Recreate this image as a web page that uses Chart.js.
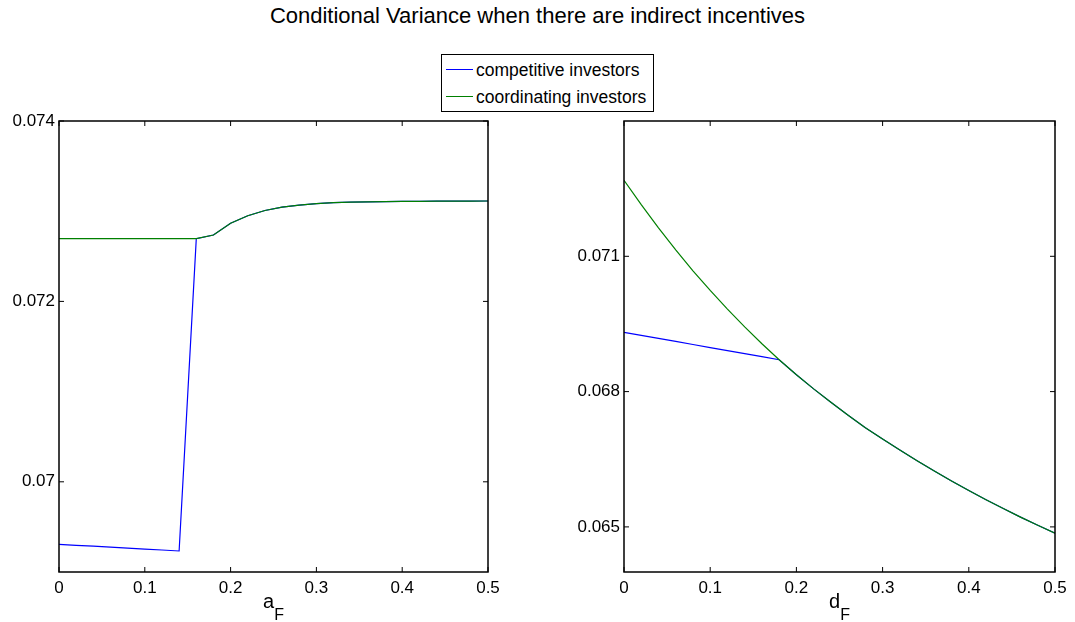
<!DOCTYPE html>
<html>
<head>
<meta charset="utf-8">
<script src="https://cdn.jsdelivr.net/npm/chart.js@4.4.1/dist/chart.umd.min.js"></script>
<style>
  body { margin: 0; background: #fff; width: 1075px; height: 622px; position: relative; overflow: hidden;
         font-family: 'Liberation Sans', Arial, Helvetica, sans-serif; }
  #title { position: absolute; left: 0; top: 3px; width: 1075px; text-align: center; font-size: 22px; line-height: 26px; color: #000; }
  #legend { position: absolute; left: 441px; top: 54px; width: 211px; height: 56px; border: 1px solid #000; background: #fff; z-index: 2; }
  .row { position: absolute; left: 34px; height: 20px; font-size: 17.5px; line-height: 20px; white-space: nowrap; color: #000; }
  .swatch { position: absolute; left: 4px; width: 27px; height: 0; border-top: 1px solid; }
  canvas { position: absolute; top: 0; }
</style>
</head>
<body>
<div id="title"></div>
<div id="legend">
  <div class="swatch" id="sw1" style="top:14px"></div>
  <div class="row" id="lg1" style="top:5px"></div>
  <div class="swatch" id="sw2" style="top:41px"></div>
  <div class="row" id="lg2" style="top:32px"></div>
</div>
<canvas id="left" width="540" height="622" style="left:0;width:540px;height:622px"></canvas>
<canvas id="right" width="535" height="622" style="left:540px;width:535px;height:622px"></canvas>
<script>
var titleText = 'Conditional Variance when there are indirect incentives';
var seriesNames = ['competitive investors', 'coordinating investors'];
var seriesColors = ['#0000ff', '#008000'];

var xValues = [0, 0.02, 0.04, 0.06, 0.08, 0.10, 0.12, 0.14, 0.16, 0.18, 0.20, 0.22, 0.24,
               0.26, 0.28, 0.30, 0.32, 0.34, 0.36, 0.38, 0.40, 0.42, 0.44, 0.46, 0.48, 0.50];

// left panel (a_F)
var leftCompetitive = [0.069307, 0.069296, 0.069286, 0.069275, 0.069265, 0.069254, 0.069244, 0.069233,
                       0.072695, 0.072736, 0.072866, 0.072950, 0.073008, 0.073045, 0.073068, 0.073085,
                       0.073094, 0.073100, 0.073104, 0.073107, 0.073109, 0.073110, 0.073111, 0.073112,
                       0.073112, 0.073113];
var leftCoordinating = [0.072695, 0.072695, 0.072695, 0.072695, 0.072695, 0.072695, 0.072695, 0.072695,
                        0.072695, 0.072736, 0.072866, 0.072950, 0.073008, 0.073045, 0.073068, 0.073085,
                        0.073094, 0.073100, 0.073104, 0.073107, 0.073109, 0.073110, 0.073111, 0.073112,
                        0.073112, 0.073113];

// right panel (d_F)
var rightCompetitive = [0.069315, 0.069247, 0.069180, 0.069112, 0.069045, 0.068977, 0.068910, 0.068842,
                        0.068775, 0.068707, 0.068375, 0.068061, 0.067763, 0.067477, 0.067201, 0.066947,
                        0.066703, 0.066467, 0.066239, 0.066019, 0.065807, 0.065603, 0.065407, 0.065217,
                        0.065035, 0.064859];
var rightCoordinating = [0.072685, 0.072145, 0.071631, 0.071143, 0.070679, 0.070243, 0.069829, 0.069435,
                         0.069061, 0.068707, 0.068375, 0.068061, 0.067763, 0.067477, 0.067201, 0.066947,
                         0.066703, 0.066467, 0.066239, 0.066019, 0.065807, 0.065603, 0.065407, 0.065217,
                         0.065035, 0.064859];

var xTicks = [0, 0.1, 0.2, 0.3, 0.4, 0.5];
var xTickLabels = ['0', '0.1', '0.2', '0.3', '0.4', '0.5'];
var leftYTicks = [0.070, 0.072, 0.074];
var leftYTickLabels = ['0.07', '0.072', '0.074'];
var rightYTicks = [0.065, 0.068, 0.071];
var rightYTickLabels = ['0.065', '0.068', '0.071'];
var leftXLabel = ['a', 'F'];
var rightXLabel = ['d', 'F'];

var fontFamily = "'Liberation Sans', Arial, Helvetica, sans-serif";

document.getElementById('title').textContent = titleText;
document.getElementById('lg1').textContent = seriesNames[0];
document.getElementById('lg2').textContent = seriesNames[1];
document.getElementById('sw1').style.borderColor = seriesColors[0];
document.getElementById('sw2').style.borderColor = seriesColors[1];

// box, inward ticks on all four sides, and subscripted x label
var matlabBox = {
  id: 'matlabBox',
  afterDraw: function (chart, args, opts) {
    var ctx = chart.ctx, a = chart.chartArea, x = chart.scales.x, y = chart.scales.y;
    ctx.save();
    ctx.strokeStyle = '#000';
    ctx.lineWidth = 1;
    ctx.beginPath();
    x.ticks.forEach(function (t) {
      var px = x.getPixelForValue(t.value);
      ctx.moveTo(px, a.bottom); ctx.lineTo(px, a.bottom - 5);
      ctx.moveTo(px, a.top); ctx.lineTo(px, a.top + 5);
    });
    y.ticks.forEach(function (t) {
      var py = y.getPixelForValue(t.value);
      ctx.moveTo(a.left, py); ctx.lineTo(a.left + 5, py);
      ctx.moveTo(a.right, py); ctx.lineTo(a.right - 5, py);
    });
    ctx.stroke();
    ctx.lineWidth = 1.5;
    ctx.strokeRect(a.left, a.top, a.right - a.left, a.bottom - a.top);

    var lab = opts.label;
    ctx.fillStyle = '#000';
    ctx.textBaseline = 'alphabetic';
    ctx.font = '20px ' + fontFamily;
    var w1 = ctx.measureText(lab[0]).width;
    ctx.font = '16px ' + fontFamily;
    var w2 = ctx.measureText(lab[1]).width;
    var sx = (a.left + a.right) / 2 - (w1 + w2) / 2;
    ctx.font = '20px ' + fontFamily;
    ctx.fillText(lab[0], sx, 608);
    ctx.font = '16px ' + fontFamily;
    ctx.fillText(lab[1], sx + w1, 620);
    ctx.restore();
  }
};

function makeChart(id, blue, green, yMin, yMax, yTicks, yLabels, xLabel, pad) {
  var ctx = document.getElementById(id).getContext('2d');
  return new Chart(ctx, {
    type: 'line',
    data: {
      datasets: [
        {
          label: seriesNames[0],
          data: xValues.map(function (v, i) { return { x: v, y: blue[i] }; }),
          borderColor: seriesColors[0],
          borderWidth: 1.2,
          pointRadius: 0,
          tension: 0,
          order: 1
        },
        {
          label: seriesNames[1],
          data: xValues.map(function (v, i) { return { x: v, y: green[i] }; }),
          borderColor: seriesColors[1],
          borderWidth: 1.2,
          pointRadius: 0,
          tension: 0,
          order: 0
        }
      ]
    },
    options: {
      responsive: false,
      animation: false,
      devicePixelRatio: 1,
      layout: { padding: pad },
      plugins: {
        legend: { display: false },
        tooltip: { enabled: false },
        matlabBox: { label: xLabel }
      },
      scales: {
        x: {
          type: 'linear',
          min: 0,
          max: 0.5,
          afterBuildTicks: function (s) { s.ticks = xTicks.map(function (v) { return { value: v }; }); },
          afterFit: function (s) { s.height = 50; },
          grid: { display: false, drawTicks: false },
          border: { display: false },
          ticks: {
            color: '#000',
            font: { size: 17, family: fontFamily },
            padding: 6,
            maxRotation: 0,
            autoSkip: false,
            callback: function (v, i) { return xTickLabels[i]; }
          }
        },
        y: {
          type: 'linear',
          min: yMin,
          max: yMax,
          afterBuildTicks: function (s) { s.ticks = yTicks.map(function (v) { return { value: v }; }); },
          afterFit: function (s) { s.width = 59; },
          grid: { display: false, drawTicks: false },
          border: { display: false },
          ticks: {
            color: '#000',
            font: { size: 17, family: fontFamily },
            padding: 4,
            autoSkip: false,
            callback: function (v, i) { return yLabels[i]; }
          }
        }
      }
    },
    plugins: [matlabBox]
  });
}

makeChart('left', leftCompetitive, leftCoordinating, 0.069, 0.074, leftYTicks, leftYTickLabels, leftXLabel,
          { left: 0, right: 52, top: 121, bottom: 0 });
makeChart('right', rightCompetitive, rightCoordinating, 0.064, 0.074, rightYTicks, rightYTickLabels, rightXLabel,
          { left: 25, right: 20, top: 121, bottom: 0 });
</script>
</body>
</html>
